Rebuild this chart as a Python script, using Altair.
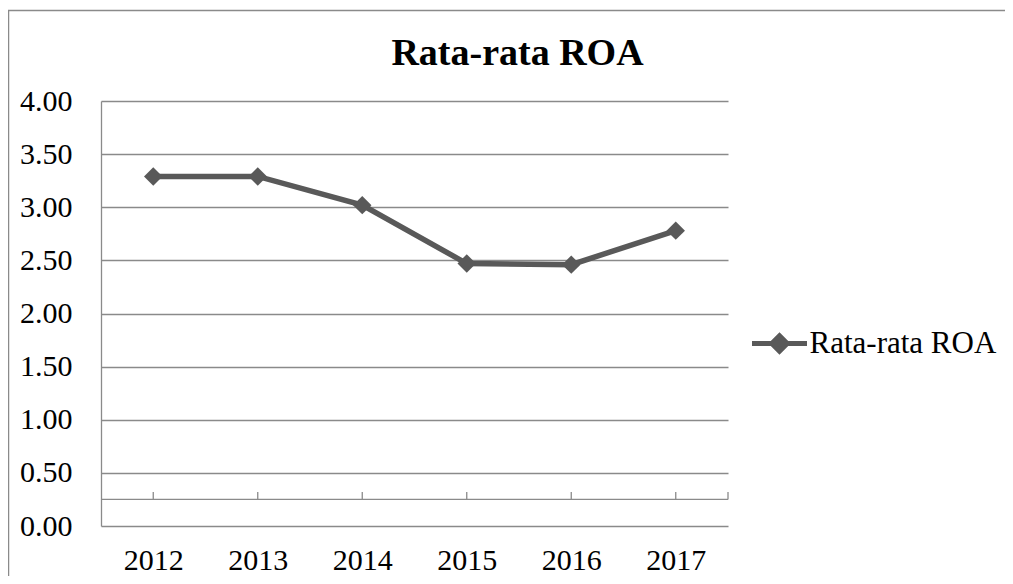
import altair as alt
import pandas as pd

years = ["2012", "2013", "2014", "2015", "2016", "2017"]
roa = [3.29, 3.29, 3.02, 2.47, 2.46, 2.78]
series_name = "Rata-rata ROA"
title_text = "Rata-rata ROA"
y_ticks = [0.0, 0.5, 1.0, 1.5, 2.0, 2.5, 3.0, 3.5, 4.0]
axis_cross = 0.25

df = pd.DataFrame({"year": years, "roa": roa, "series": [series_name] * len(years)})
one = pd.DataFrame({"k": [0]})

W, H = 627, 425
GRID = "#8a8a8a"
LINE = "#595959"
FONT = "Liberation Serif"

x_scale = alt.Scale(type="point", padding=0.5, domain=years)
y_scale = alt.Scale(domain=[0, 4], nice=False, zero=True)

x_axis = alt.Axis(title=None, domain=False, ticks=False, grid=False, labelAngle=0,
                  labelPadding=19, labelFontSize=30, labelFont=FONT, labelColor="black")
y_axis = alt.Axis(title=None, values=y_ticks, format=".2f", grid=True, gridColor=GRID,
                  gridWidth=1.3, domain=True, domainColor=GRID, domainWidth=1.3,
                  ticks=False, labelPadding=29, labelFontSize=30, labelFont=FONT,
                  labelColor="black")

legend = alt.Legend(
    title=None, orient="none", legendX=648.5, legendY=212.5,
    symbolType="M-1,0L1,0M0,-0.28L0.28,0L0,0.28L-0.28,0Z",
    symbolSize=3025, symbolStrokeWidth=5, symbolFillColor=LINE, symbolStrokeColor=LINE,
    labelFont=FONT, labelFontSize=31, labelColor="black", labelOffset=0, padding=0,
    labelLimit=400,
)

line = alt.Chart(df).mark_line(strokeWidth=5.5).encode(
    x=alt.X("year:N", scale=x_scale, axis=x_axis, sort=years),
    y=alt.Y("roa:Q", scale=y_scale, axis=y_axis),
    color=alt.Color("series:N", scale=alt.Scale(range=[LINE]), legend=legend),
)

points = alt.Chart(df).mark_point(shape="diamond", filled=True, size=340, color=LINE, opacity=1).encode(
    x=alt.X("year:N", scale=x_scale, axis=x_axis, sort=years),
    y=alt.Y("roa:Q", scale=y_scale, axis=y_axis),
)

axis_line = alt.Chart(one).mark_rule(color=GRID, strokeWidth=1.3).encode(
    x=alt.value(0), x2=alt.value(W), y=alt.YDatum(axis_cross, axis=y_axis, scale=y_scale)
)

ticks = alt.Chart(df).mark_rule(color=GRID, strokeWidth=1.3).encode(
    x=alt.X("year:N", scale=x_scale, axis=x_axis, sort=years),
    y=alt.YDatum(axis_cross, axis=y_axis, scale=y_scale),
    y2=alt.value(391),
)

end_tick = alt.Chart(one).mark_rule(color=GRID, strokeWidth=1.3).encode(
    x=alt.value(W), y=alt.YDatum(axis_cross, axis=y_axis, scale=y_scale), y2=alt.value(391)
)

frame = alt.Chart(one).mark_rect(fillOpacity=0, stroke=GRID, strokeWidth=1.5).encode(
    x=alt.value(-92.5), x2=alt.value(960), y=alt.value(-90.5), y2=alt.value(520)
)

title = alt.Chart(one).mark_text(
    font=FONT, fontSize=38, fontWeight="bold", color="black", align="center",
    baseline="alphabetic",
).encode(x=alt.value(416.5), y=alt.value(-36), text=alt.value(title_text))

chart = alt.layer(line, points, axis_line, ticks, end_tick, frame, title).properties(
    width=W,
    height=H,
    autosize=alt.AutoSizeParams(type="none"),
    padding={"left": 93, "top": 93, "right": 277, "bottom": 50},
).configure_view(strokeWidth=0)

chart.save("out.html", embed_options={"renderer": "svg", "actions": False})
